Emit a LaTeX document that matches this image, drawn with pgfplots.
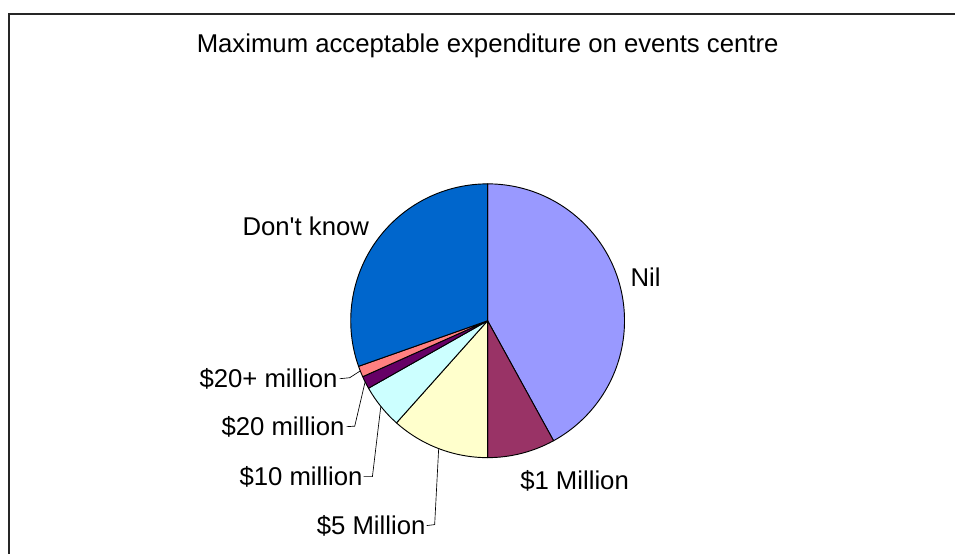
\documentclass[border=0pt]{standalone}
\usepackage{pgfplots}
\pgfplotsset{compat=1.18}
\usepackage{pgfplotstable}
\usepackage{fontspec}
\setmainfont{Liberation Sans}
\definecolor{cNil}{HTML}{9999FF}
\definecolor{cOne}{HTML}{993366}
\definecolor{cFive}{HTML}{FFFFCC}
\definecolor{cTen}{HTML}{CCFFFF}
\definecolor{cTwenty}{HTML}{660066}
\definecolor{cTwentyPlus}{HTML}{FF8080}
\definecolor{cDK}{HTML}{0066CC}
\pgfplotstableread{
value color
42.0 cNil
8.0 cOne
11.6 cFive
5.2 cTen
1.5 cTwenty
1.3 cTwentyPlus
30.4 cDK
}\piedata
\begin{document}
\begin{tikzpicture}[lbl/.style={font=\fontsize{19.3}{23}\selectfont, inner sep=0pt}]
\begin{axis}[
  scale only axis, width=717pt, height=415.5pt,
  xmin=0, xmax=956, ymin=0, ymax=554,
  hide axis, clip=false]
\path (axis cs:0,0) rectangle (axis cs:956,554);
\draw[line width=1.1pt, black!85] (axis cs:9,0) -- (axis cs:9,540) -- (axis cs:956,540);
\def\cum{0}
\pgfplotsforeachungrouped \i in {0,...,6} {%
  \pgfplotstablegetelem{\i}{value}\of\piedata \let\v\pgfplotsretval
  \pgfplotstablegetelem{\i}{color}\of\piedata \let\c\pgfplotsretval
  \pgfmathsetmacro\a{90-3.6*\cum}%
  \pgfmathsetmacro\b{90-3.6*(\cum+\v)}%
  \edef\temp{\noexpand\filldraw[fill=\c, draw=black, line width=0.7pt, line join=round] (axis cs:488,233) -- ++(\a:102.75pt) arc[start angle=\a, end angle=\b, radius=102.75pt] -- cycle;}%
  \temp
  \pgfmathsetmacro\cum{\cum+\v}%
}
\node[lbl] at (axis cs:488,508) {Maximum acceptable expenditure on events centre};
\node[lbl] at (axis cs:306,328) {Don\textquotesingle t know};
\node[lbl] at (axis cs:646,277) {Nil};
\node[lbl] at (axis cs:575,73) {\$1 Million};
\node[lbl, anchor=east] at (axis cs:338,175) {\$20+ million};
\node[lbl, anchor=east] at (axis cs:345,127) {\$20 million};
\node[lbl, anchor=east] at (axis cs:363,77) {\$10 million};
\node[lbl, anchor=east] at (axis cs:426,28) {\$5 Million};
\draw[line width=0.5pt] (axis cs:340,175) -- (axis cs:350,176) -- (axis cs:360.5,182.8);
\draw[line width=0.5pt] (axis cs:347,127) -- (axis cs:355,127.5) -- (axis cs:365.4,171.9);
\draw[line width=0.5pt] (axis cs:364,77) -- (axis cs:372.7,77) -- (axis cs:381.1,147.3);
\draw[line width=0.5pt] (axis cs:427,28) -- (axis cs:435,29) -- (axis cs:439,105);
\end{axis}
\end{tikzpicture}
\end{document}
